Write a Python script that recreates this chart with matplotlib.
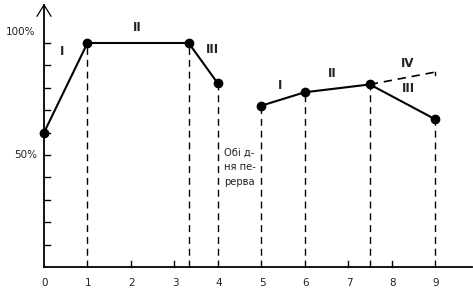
import matplotlib
matplotlib.use("Agg")
import matplotlib.pyplot as plt

# Дані: години та продуктивність (%)
x_before = [0, 1, 3.33, 4]
y_before = [60, 100, 100, 82]
x_after = [5, 6, 7.5, 9]
y_after = [72, 78, 81.5, 66]
x_iv = [7.5, 9]
y_iv = [81.5, 87]
x_ticks = list(range(10))
phase_labels = [("I", 0.42, 96), ("II", 2.15, 107), ("III", 3.87, 97),
                ("I", 5.43, 81), ("II", 6.63, 86.5), ("IV", 8.38, 91), ("III", 8.38, 79.5)]
break_text = "Обі д-\nня пе-\nрерва"

fig = plt.figure(figsize=(4.73, 2.92), dpi=100)
ax = fig.add_axes([0, 0, 1, 1])
ax.set_xlim(-1.013, 9.875)
ax.set_ylim(-11.16, 119.2)
ax.axis("off")

dash = (0, (5, 3.5))
# вертикальні пунктири
for xs, ys in ((x_before[1:], y_before[1:]), (x_after, y_after)):
    for xv, yv in zip(xs, ys):
        ax.plot([xv, xv], [0, yv], color="black", lw=1, linestyle=dash)

# осі
ax.plot([0, 0], [0, 117], color="black", lw=1.3)
ax.plot([-0.16, 0, 0.16], [112, 117, 112], color="black", lw=0.9)
ax.plot([0, 9.85], [0, 0], color="black", lw=1.3)
for v in range(10, 101, 10):
    ax.plot([0, 0.13], [v, v], color="black", lw=1)
for v in [2, 3, 7, 8]:
    ax.plot([v, v], [0, 2.8], color="black", lw=1)
for v in x_ticks:
    ax.text(v + 0.02, -7.3, str(v), ha="center", va="center", fontsize=7.5, color="#222222")
ax.text(-0.2, 105, "100%", ha="right", va="center", fontsize=7.5, color="#222222")
ax.text(-0.15, 50, "50%", ha="right", va="center", fontsize=7.5, color="#222222")

# лінії продуктивності
ax.plot(x_before, y_before, color="black", lw=1.5, marker="o", markersize=6)
ax.plot(x_after, y_after, color="black", lw=1.5, marker="o", markersize=6)
ax.plot(x_iv, y_iv, color="black", lw=1.2, linestyle=dash)
ax.plot([9, 9], [87, 85.5], color="black", lw=1)

for txt, xv, yv in phase_labels:
    ax.text(xv, yv, txt, ha="center", va="center", fontsize=8.5, fontweight="bold",
            color="#222222")
ax.text(4.5, 44.5, break_text, ha="center", va="center", fontsize=7.2,
        color="#222222", linespacing=1.6)

fig.savefig("out.png", dpi=100)
